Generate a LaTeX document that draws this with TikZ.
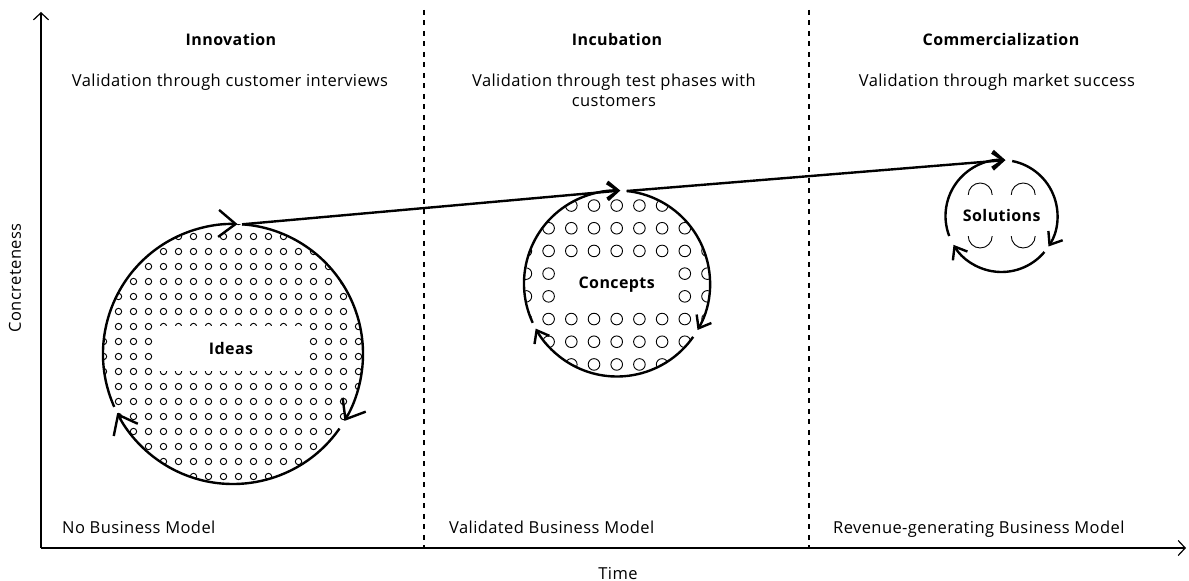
\documentclass[tikz,border=0pt]{standalone}
\usepackage{fontspec}
\setmainfont{Open Sans}[LetterSpace=2.5]
\usepackage{tikz}
\usetikzlibrary{arrows.meta}
\tikzset{
  axis/.style={line width=1.2pt, -{Straight Barb[length=7pt,width=15pt]}},
  stage/.style={line width=1.2pt, dash pattern=on 5pt off 5.5pt},
  ringbig/.style={line width=2.4pt, -{Straight Barb[length=17pt,width=27pt]}},
  ring/.style={line width=2.4pt, -{Straight Barb[length=11pt,width=17pt]}},
  dot/.style={line width=0.9pt},
  blank/.style={fill=white, inner sep=0pt, font=\hdtxt},
  head/.style={inner sep=0pt, anchor=base, font=\hdtxt},
  note/.style={inner sep=0pt, anchor=base, align=center, font=\txt},
  side/.style={inner sep=0pt, anchor=base west, font=\txt}
}
\newcommand{\txt}{\fontsize{16.5}{20}\selectfont}
\newcommand{\hdtxt}{\fontsize{16}{20}\selectfont\bfseries}

\begin{document}
\begin{tikzpicture}[x=1pt, y=1pt]
\useasboundingbox (0,0) rectangle (1189,581);
\coordinate (origin) at (41,33);
\coordinate (ytop) at (41,569);
\coordinate (xend) at (1186,33);
\coordinate (ideas) at (233,227);
\coordinate (concepts) at (617,297.5);
\coordinate (solutions) at (1001.5,365);

\draw[axis] (origin) -- (ytop);
\draw[axis] (origin) -- (xend);
\draw[stage] (424,571) -- (424,33);
\draw[stage] (809,571) -- (809,33);

\node[head] (innovation) at (231,535) {Innovation};
\node[head] (incubation) at (617,535) {Incubation};
\node[head] (commercialization) at (1001,535) {Commercialization};
\node[note] (innovationnote) at (230,494.3) {Validation through customer interviews};
\node[note] (incubationnote) at (614,474.3) {Validation through test phases with\\customers};
\node[note] (commercializationnote) at (997,494.3) {Validation through market success};
\node[side] (nomodel) at (62,47.7) {No Business Model};
\node[side] (validmodel) at (449,47.7) {Validated Business Model};
\node[side] (revenuemodel) at (833,47.7) {Revenue-generating Business Model};
\node[note] (time) at (618,1.7) {Time};
\node[inner sep=0pt, font=\txt, rotate=90] (concreteness) at (15,303) {Concreteness};

\begin{scope}
\clip (ideas) circle (130);
\foreach \i in {-10,...,9} \foreach \j in {-10,...,9}
  \draw[dot] ({231+15*\i+7.5},{232+15*\j+7.5}) circle (3.2);
\end{scope}
\begin{scope}
\clip (concepts) circle (92);
\foreach \i in {-5,...,5} \foreach \j in {-5,...,4}
  \draw[dot] ({616.7+22.7*\i},{296+22.7*\j+11.35}) circle (5.8);
\end{scope}
\foreach \i in {-1,1} \foreach \j in {-1,1}
  \draw[dot] ({1001.7+21.5*\i},{365.5+20.5*\j}) circle (12);

\node[blank, minimum width=156pt, minimum height=45pt] (ideaslabel) at (231,232) {Ideas};
\node[blank, minimum width=114pt, minimum height=46pt] (conceptslabel) at (616.7,296) {Concepts};
\node[blank, minimum width=88pt, minimum height=41pt] (solutionslabel) at (1001.7,365.5) {Solutions};

\draw[ringbig] ([shift={(204:130)}]ideas) arc[start angle=204, end angle=88, radius=130];
\draw[ringbig] ([shift={(86:130)}]ideas) arc[start angle=86, end angle=-31, radius=130];
\draw[ringbig] ([shift={(-35:130)}]ideas) arc[start angle=-35, end angle=-153, radius=130];
\draw[ring] ([shift={(205:93)}]concepts) arc[start angle=205, end angle=88, radius=93];
\draw[ring] ([shift={(84:93)}]concepts) arc[start angle=84, end angle=-30, radius=93];
\draw[ring] ([shift={(-35:93)}]concepts) arc[start angle=-35, end angle=-151, radius=93];
\draw[ring] ([shift={(201:56)}]solutions) arc[start angle=201, end angle=86, radius=56];
\draw[ring] ([shift={(79:56)}]solutions) arc[start angle=79, end angle=-33, radius=56];
\draw[ring] ([shift={(-40:56)}]solutions) arc[start angle=-40, end angle=-149, radius=56];

\coordinate (ideasout) at ([shift={(86:130)}]ideas);
\coordinate (conceptsin) at ([shift={(88:93)}]concepts);
\coordinate (conceptsout) at ([shift={(84:93)}]concepts);
\coordinate (solutionsin) at ([shift={(86:56)}]solutions);
\draw[ring] (ideasout) -- (conceptsin);
\draw[ring] (conceptsout) -- (solutionsin);
\end{tikzpicture}
\end{document}
